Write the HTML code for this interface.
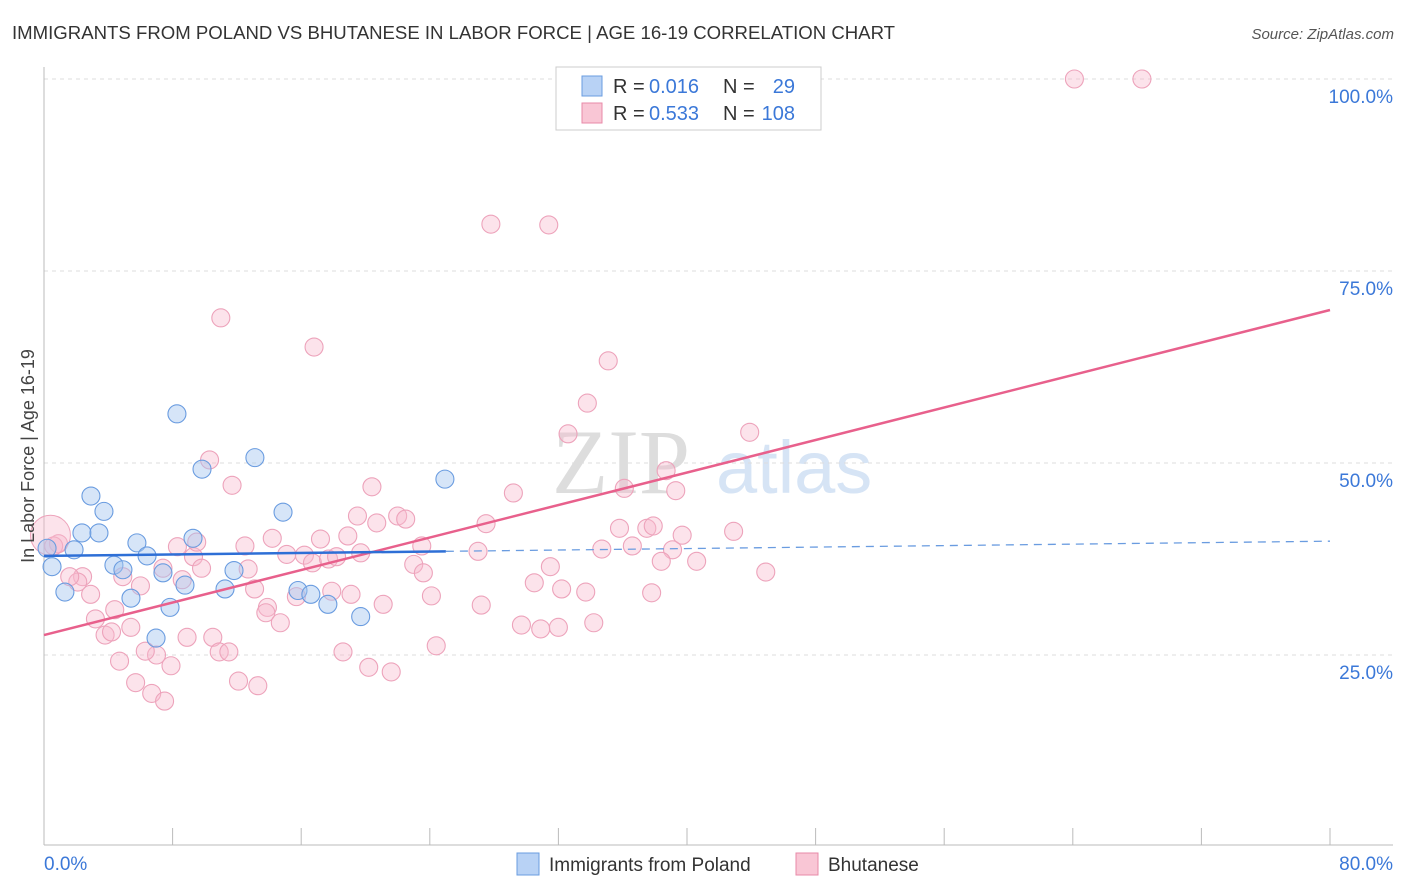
<!DOCTYPE html>
<html><head><meta charset="utf-8"><style>
body{margin:0;background:#fff;font-family:"Liberation Sans",sans-serif;}
svg{display:block}
</style></head><body>
<svg id="chart" width="1406" height="892">
<text x="12" y="39" font-size="18.6" fill="#333">IMMIGRANTS FROM POLAND VS BHUTANESE IN LABOR FORCE | AGE 16-19 CORRELATION CHART</text>
<text x="1394" y="39" font-size="15" fill="#555" font-style="italic" text-anchor="end">Source: ZipAtlas.com</text>
<g>
<text x="552" y="493" font-size="92" font-family="Liberation Serif,serif" fill="#ddd">ZIP</text>
<text x="716" y="493" font-size="74" fill="#d6e4f5">atlas</text>
</g>
<g id="grid"></g>
<g id="marks"></g>
<text transform="translate(34,456) rotate(-90)" font-size="18" fill="#444" text-anchor="middle">In Labor Force | Age 16-19</text>
<g>
<rect x="556" y="67" width="265" height="63" fill="#fff" stroke="#ccc"/>
<rect x="582" y="76" width="20" height="20" fill="#b8d2f5" stroke="#6a9ce0"/>
<rect x="582" y="103" width="20" height="20" fill="#f9c6d5" stroke="#e88aa8"/>
<g font-size="20">
<text x="613" y="93" fill="#333">R =</text><text x="649" y="93" fill="#3b78d8">0.016</text>
<text x="723" y="93" fill="#333">N =</text><text x="795" y="93" fill="#3b78d8" text-anchor="end">29</text>
</g>
<g font-size="20">
<text x="613" y="120" fill="#333">R =</text><text x="649" y="120" fill="#3b78d8">0.533</text>
<text x="723" y="120" fill="#333">N =</text><text x="795" y="120" fill="#3b78d8" text-anchor="end">108</text>
</g>
</g>
<g>
<rect x="517" y="853" width="22" height="22" fill="#b8d2f5" stroke="#6a9ce0"/>
<text x="549" y="871" font-size="19" fill="#333">Immigrants from Poland</text>
<rect x="796" y="853" width="22" height="22" fill="#f9c6d5" stroke="#e88aa8"/>
<text x="828" y="871" font-size="19" fill="#333">Bhutanese</text>
</g>
</svg>
<script>
const yTicks=[25,50,75,100];
const yTickLabels=["25.0%","50.0%","75.0%","100.0%"];
const xTicks=[0,8,16,24,32,40,48,56,64,72,80];
const xEndLabels=["0.0%","80.0%"];
const polandX=[0.19,0.5,1.3,1.87,2.36,2.92,3.42,3.73,4.35,4.91,5.41,5.78,6.41,7.4,7.84,8.27,8.77,9.27,9.83,11.26,11.82,13.12,14.87,15.8,16.6,17.66,19.7,24.94,6.97];
const polandY=[38.9,36.5,33.2,38.7,40.9,45.7,40.9,43.7,36.7,36.1,32.4,39.6,37.9,35.7,31.2,56.4,34.1,40.2,49.2,33.6,36.0,50.7,43.6,33.4,32.9,31.6,30.0,47.9,27.2];
const bhutX=[64.1,68.3,27.8,31.4,11.0,16.8,35.1,33.8,32.6,43.9,10.3,11.7,20.4,29.2,36.1,38.7,39.3,19.5,20.7,22.0,22.5,27.5,35.8,37.5,37.9,39.7,42.9,23.5,34.7,36.6,39.1,27.0,23.0,23.6,38.4,40.6,44.9,31.5,30.5,32.2,33.7,24.1,37.8,27.2,29.7,30.9,32.0,34.2,24.4,18.9,19.7,17.2,15.1,16.2,16.7,17.7,18.2,17.9,19.1,15.7,14.2,12.5,12.7,13.1,13.9,13.8,14.7,21.1,18.6,20.2,21.6,13.3,12.1,10.5,10.9,11.5,8.9,7.9,7.0,6.3,4.7,5.7,6.7,7.5,5.4,4.4,3.2,3.8,4.2,2.9,2.4,2.1,1.6,0.9,0.6,6.0,4.9,7.4,8.3,9.3,9.5,9.8,8.6];
const bhutY=[100,100,81.1,81.0,68.9,65.1,63.3,57.8,53.8,54.0,50.4,47.1,46.9,46.1,46.7,49.0,46.4,43.1,42.2,43.1,42.7,42.1,41.5,41.5,41.8,40.6,41.1,39.2,38.8,39.2,38.7,38.5,36.8,35.7,37.2,37.2,35.8,36.5,34.4,33.6,33.2,32.7,33.1,31.5,28.9,28.4,28.6,29.2,26.2,40.5,38.3,40.1,38.1,38.0,37.0,37.5,37.8,33.3,32.9,32.6,40.2,39.2,36.2,33.6,31.2,30.5,29.2,31.6,25.4,23.4,22.8,21.0,21.6,27.3,25.4,25.4,27.3,23.6,25.0,25.5,24.2,21.4,20.0,19.0,28.6,30.9,29.7,27.6,28.0,32.9,35.2,34.5,35.2,39.5,39.2,34.0,35.2,36.3,39.1,37.8,39.7,36.3,34.8];
const bigBhut=[0.4,40.6];
const polandTrend=[37.9,0.024,25];
const bhutTrend=[27.6,0.529];
const NS='http://www.w3.org/2000/svg';
const X=v=>44+v/80*1286;
const Y=v=>847-v/100*768;
const grid=document.getElementById('grid'),marks=document.getElementById('marks');
function mk(p,tag,a){const e=document.createElementNS(NS,tag);for(const k in a)e.setAttribute(k,a[k]);p.appendChild(e);return e;}
yTicks.forEach((t,i)=>{
 const l=mk(grid,'line',{x1:44,x2:1393,y1:Y(t),y2:Y(t),stroke:'#ddd','stroke-dasharray':'4,4'});
 
 
 const tx=mk(grid,'text',{x:1393,y:Y(t)+24,'font-size':19,fill:'#3b78d8','text-anchor':'end'});
 tx.textContent=yTickLabels[i];
 
 
});
const ax=mk(grid,'line',{x1:44,x2:44,y1:67,y2:845,stroke:'#bbb'});


const bx=mk(grid,'line',{x1:44,x2:1393,y1:845,y2:845,stroke:'#bbb'});


xTicks.forEach(t=>{
 const l=mk(grid,'line',{x1:X(t),x2:X(t),y1:828,y2:845,stroke:'#bbb'});
 
 
});
[[0,'start',44],[80,'end',1393]].forEach((d,i)=>{
 const tx=mk(grid,'text',{x:d[2],y:870,'font-size':19,fill:'#3b78d8','text-anchor':d[1]});
 tx.textContent=xEndLabels[i];
 
 
});
bhutX.forEach((v,i)=>{
 const c=mk(marks,'circle',{cx:X(v),cy:Y(bhutY[i]),r:9,fill:'rgba(248,184,204,0.4)',stroke:'#eda3bb','stroke-width':1.1});
 
 
});
const bg=mk(marks,'circle',{cx:X(bigBhut[0]),cy:Y(bigBhut[1]),r:20,fill:'rgba(248,184,204,0.4)',stroke:'#eda3bb'});


polandX.forEach((v,i)=>{
 const c=mk(marks,'circle',{cx:X(v),cy:Y(polandY[i]),r:9,fill:'rgba(165,198,240,0.45)',stroke:'#6a9ce0','stroke-width':1.1});
 
 
});
const pt=mk(marks,'line',{x1:X(0),y1:Y(bhutTrend[0]),x2:X(80),y2:Y(bhutTrend[0]+bhutTrend[1]*80),stroke:'#e8608c','stroke-width':2.5});


const ps=mk(marks,'line',{x1:X(0),y1:Y(polandTrend[0]),x2:X(polandTrend[2]),y2:Y(polandTrend[0]+polandTrend[1]*polandTrend[2]),stroke:'#2e6fd6','stroke-width':2.5});


const pd=mk(marks,'line',{x1:X(polandTrend[2]),y1:Y(polandTrend[0]+polandTrend[1]*polandTrend[2]),x2:X(80),y2:Y(polandTrend[0]+polandTrend[1]*80),stroke:'#6a9ce0','stroke-width':1.3,'stroke-dasharray':'8,6'});


</script>
</body></html>
